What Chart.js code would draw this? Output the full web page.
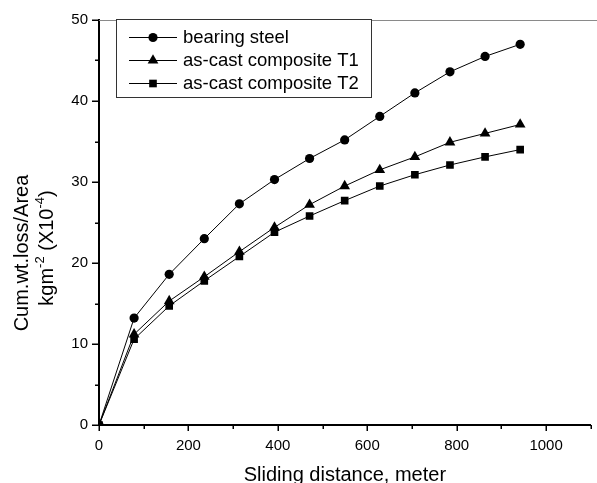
<!DOCTYPE html>
<html><head><meta charset="utf-8">
<script src="https://cdn.jsdelivr.net/npm/chart.js@4/dist/chart.umd.min.js"></script>
<style>html,body{margin:0;padding:0;background:#fff;overflow:hidden}#wrap{width:597px;height:483px;position:relative}</style>
</head><body><div id="wrap"><canvas id="c" width="597" height="483"></canvas></div>
<script>
const distances = [0, 78.5, 157, 235.5, 314, 392.5, 471, 549.5, 628, 706.5, 785, 863.5, 942];
const bearingSteel = [0, 13.2, 18.6, 23.0, 27.3, 30.3, 32.9, 35.2, 38.1, 41.0, 43.6, 45.5, 47.0];
const compositeT1 = [0, 11.2, 15.3, 18.3, 21.4, 24.4, 27.2, 29.5, 31.5, 33.1, 34.9, 36.0, 37.1];
const compositeT2 = [0, 10.6, 14.7, 17.8, 20.8, 23.8, 25.8, 27.7, 29.5, 30.9, 32.1, 33.1, 34.0];
const seriesNames = ['bearing steel', 'as-cast composite T1', 'as-cast composite T2'];
const seriesMarkers = ['circle', 'triangle', 'rect'];
const xTicks = [0, 200, 400, 600, 800, 1000];
const yTicks = [0, 10, 20, 30, 40, 50];
const xTitle = 'Sliding distance, meter';

const FONT = '"Liberation Sans", Arial, sans-serif';
const markerRadius = {circle: 4.6, triangle: 6.2, rect: 5.4};

function pts(vals) { return distances.map((d, i) => ({x: d, y: vals[i]})); }
const seriesValues = [bearingSteel, compositeT1, compositeT2];

const datasets = seriesValues.map((vals, i) => ({
  label: seriesNames[i],
  data: pts(vals),
  borderColor: '#000',
  backgroundColor: '#000',
  borderWidth: 1,
  pointStyle: seriesMarkers[i],
  pointRadius: markerRadius[seriesMarkers[i]],
  pointBackgroundColor: '#000',
  pointBorderColor: '#000',
  pointBorderWidth: 0,
  tension: 0
}));

const decor = {
  id: 'decor',
  afterDraw(chart) {
    const ctx = chart.ctx;
    const ca = chart.chartArea;
    const xs = chart.scales.x, ys = chart.scales.y;
    ctx.save();
    // top frame line
    ctx.strokeStyle = '#8a8a8a';
    ctx.lineWidth = 1;
    ctx.beginPath();
    ctx.moveTo(ca.left, ca.top + 0.5);
    ctx.lineTo(chart.width, ca.top + 0.5);
    ctx.stroke();
    // ticks
    ctx.strokeStyle = '#000';
    ctx.lineWidth = 1.5;
    for (let v = 0; v <= 1100; v += 100) {
      const px = Math.round(xs.getPixelForValue(v)) + 0.25;
      const len = v % 200 === 0 ? 6 : 4;
      ctx.beginPath(); ctx.moveTo(px, ca.bottom); ctx.lineTo(px, ca.bottom + len); ctx.stroke();
    }
    for (let v = 0; v <= 50; v += 5) {
      const py = Math.round(ys.getPixelForValue(v)) + 0.25;
      const len = v % 10 === 0 ? 7 : 4;
      ctx.beginPath(); ctx.moveTo(ca.left, py); ctx.lineTo(ca.left - len, py); ctx.stroke();
    }
    // legend
    const lx = 116, ly = 19, lw = 255, lh = 78;
    ctx.fillStyle = '#fff';
    ctx.fillRect(lx, ly, lw, lh);
    ctx.strokeStyle = '#333';
    ctx.lineWidth = 1;
    ctx.strokeRect(lx + 0.5, ly + 0.5, lw, lh);
    ctx.font = '18.5px ' + FONT;
    ctx.textBaseline = 'middle';
    ctx.textAlign = 'left';
    chart.data.datasets.forEach((ds, i) => {
      const cy = 37 + i * 23;
      ctx.strokeStyle = '#000';
      ctx.lineWidth = 1;
      ctx.beginPath(); ctx.moveTo(129, cy + 0.5); ctx.lineTo(177, cy + 0.5); ctx.stroke();
      ctx.fillStyle = '#000';
      Chart.helpers.drawPoint(ctx, {pointStyle: ds.pointStyle, radius: ds.pointRadius, borderWidth: 0, rotation: 0}, 153, cy + 0.5);
      ctx.fillStyle = '#000';
      ctx.fillText(ds.label, 183, cy + 1);
    });
    // x title
    ctx.font = '20px ' + FONT;
    ctx.textAlign = 'center';
    ctx.textBaseline = 'alphabetic';
    ctx.fillText(xTitle, (ca.left + ca.right) / 2, 481);
    // y title line 1
    ctx.save();
    ctx.translate(27.5, 253);
    ctx.rotate(-Math.PI / 2);
    ctx.fillText('Cum.wt.loss/Area', 0, 0);
    ctx.restore();
    // y title line 2 with superscripts
    const parts = [['kgm', false], ['-2', true], [' (X10', false], ['-4', true], [')', false]];
    const fN = '20px ' + FONT, fS = '13px ' + FONT;
    let total = 0;
    parts.forEach(p => { ctx.font = p[1] ? fS : fN; total += ctx.measureText(p[0]).width; });
    ctx.save();
    ctx.translate(53, 248);
    ctx.rotate(-Math.PI / 2);
    ctx.textAlign = 'left';
    let cx = -total / 2;
    parts.forEach(p => {
      ctx.font = p[1] ? fS : fN;
      ctx.fillText(p[0], cx, p[1] ? -9 : 0);
      cx += ctx.measureText(p[0]).width;
    });
    ctx.restore();
    ctx.restore();
  }
};

new Chart(document.getElementById('c'), {
  type: 'line',
  data: {datasets},
  options: {
    responsive: false,
    animation: false,
    layout: {padding: {top: 19, right: 0, left: 0, bottom: 0}},
    plugins: {legend: {display: false}, title: {display: false}, tooltip: {enabled: false}},
    scales: {
      x: {
        type: 'linear', min: 0, max: 1100,
        afterBuildTicks: s => { s.ticks = xTicks.map(v => ({value: v})); },
        afterFit: s => { s.height = 58; },
        grid: {display: false, drawTicks: false},
        border: {display: true, color: '#000', width: 2},
        ticks: {color: '#000', font: {size: 15, family: FONT}, padding: 12, maxRotation: 0, autoSkip: false, callback: v => String(v)}
      },
      y: {
        type: 'linear', min: 0, max: 50,
        afterBuildTicks: s => { s.ticks = yTicks.map(v => ({value: v})); },
        afterFit: s => { s.width = 99; },
        grid: {display: false, drawTicks: false},
        border: {display: true, color: '#000', width: 2},
        ticks: {color: '#000', font: {size: 15, family: FONT}, padding: 11, autoSkip: false, callback: v => String(v)}
      }
    }
  },
  plugins: [decor]
});
</script></body></html>
